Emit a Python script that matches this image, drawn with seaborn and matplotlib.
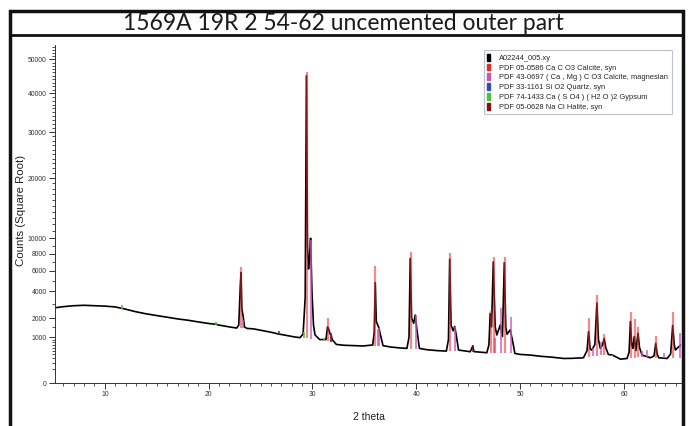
import numpy as np
import pandas as pd
import matplotlib
matplotlib.use("Agg")
import matplotlib.pyplot as plt
from matplotlib.patches import Patch, Rectangle
from matplotlib.lines import Line2D
import seaborn as sns

# measured pattern (2 theta, counts)
two_theta = [5.2, 6, 7, 8, 9, 10, 11, 11.6, 12, 13, 14, 15, 16, 17, 18, 19, 20, 20.75, 21, 22, 22.7,
             22.9, 23.05, 23.12, 23.2, 23.33, 23.45, 23.7, 24.3, 25, 26, 26.7, 27.5, 28.3, 28.8,
             29.1, 29.3, 29.42, 29.52, 29.62, 29.72, 29.82, 29.95, 30.1, 30.25, 30.7, 31.3,
             31.45, 31.55, 31.7, 31.8, 31.9, 32.3, 33, 34, 34.9, 35.8,
             35.95, 36.05, 36.15, 36.4, 36.55, 36.8, 37.5, 38.3, 39.1,
             39.3, 39.42, 39.55, 39.75, 39.9, 40.05, 40.3, 41, 42, 42.9,
             43.1, 43.22, 43.35, 43.55, 43.7, 43.85, 44.07, 45.2, 45.45, 45.55, 46.8,
             47.0, 47.12, 47.25, 47.42, 47.6, 47.76, 48.1, 48.3, 48.48, 48.62, 48.75, 49.05, 49.3, 49.5,
             50, 51, 52, 53, 54.2, 55, 56.1, 56.45, 56.6, 56.75, 56.9, 57.2, 57.4, 57.55, 57.73,
             57.95, 58.1, 58.25, 58.5, 58.9, 59.66, 60.3, 60.5, 60.63, 60.75, 60.86, 61.0, 61.15,
             61.36, 61.5, 61.75, 62.56, 62.9, 63.07, 63.2, 63.36, 64.16, 64.5, 64.7, 64.85, 64.96,
             65.2, 65.5]
counts = [2700, 2780, 2850, 2880, 2850, 2820, 2760, 2660, 2600, 2420, 2280, 2170, 2060, 1960, 1880, 1780, 1690, 1640, 1600, 1500, 1440,
          1600, 4500, 5800, 2600, 2100, 1500, 1420, 1400, 1330, 1230, 1150, 1080, 1010, 980,
          1150, 3500, 45000, 9000, 6200, 7500, 10000, 4000, 1600, 1100, 900, 900,
          1500, 1400, 1150, 1100, 900, 710, 680, 665, 654, 690,
          1200, 4800, 1800, 1450, 1100, 665, 620, 590, 571,
          1000, 7400, 2000, 1700, 2200, 1400, 571, 530, 500, 487,
          900, 7300, 1600, 1300, 1520, 1100, 518, 467, 660, 470, 437,
          700, 2300, 1500, 7000, 1500, 1100, 1617, 1030, 6900, 1500, 1130, 1350, 800, 417,
          390, 372, 340, 320, 287, 290, 303, 500, 1263, 550, 518, 700, 3050, 900, 571,
          700, 950, 600, 389, 372, 271, 287, 450, 1807, 700, 571, 1027, 500,
          1180, 600, 372, 303, 350, 750, 400, 303, 287, 400, 1578, 700, 518,
          600, 700]

# background level the reference sticks stand on
bg_theta = [5.2, 8, 10, 12, 14, 16, 18, 20, 22, 24, 26, 28, 29.5, 31, 33, 35, 37, 39, 41,
            43, 45, 47, 49.5, 52, 54, 56, 58, 60, 62, 64, 65.5]
bg_counts = [2700, 2880, 2820, 2600, 2280, 2060, 1880, 1690, 1500, 1400, 1230, 1040, 960, 880,
             680, 660, 630, 575, 530, 490, 465, 440, 417, 340, 290, 300, 380, 290, 320, 290, 300]

# reference sticks per phase
calcite_pos = [23.1, 29.45, 31.5, 36.05, 39.45, 43.25, 47.15, 47.45, 48.5, 56.6, 57.4, 58.1,
               60.65, 61.05, 61.4, 63.1, 64.7]
calcite_int = [6400, 46000, 2000, 6500, 8200, 8100, 2500, 7600, 7600, 2000, 3700, 1150,
               2400, 1950, 1500, 1070, 2400]
mgcal_pos = [23.35, 29.85, 31.8, 36.3, 36.45, 39.95, 43.75, 47.6, 48.15, 49.1, 57.0, 57.8,
             58.9, 61.75, 62.2, 63.85, 65.4]
mgcal_int = [1900, 9800, 1100, 1400, 1450, 2200, 1500, 950, 2700, 2100, 600, 800,
             370, 500, 520, 440, 1180]
quartz_pos = [26.75]
quartz_int = [1300]
gypsum_pos = [11.65, 20.75, 29.15, 31.15]
gypsum_int = [2900, 1800, 1250, 950]
halite_pos = [31.75, 45.5]
halite_int = [1200, 665]

legend_labels = ["A02244_005.xy",
                 "PDF 05-0586 Ca C O3 Calcite, syn",
                 "PDF 43-0697 ( Ca , Mg ) C O3 Calcite, magnesian",
                 "PDF 33-1161 Si O2 Quartz, syn",
                 "PDF 74-1433 Ca ( S O4 ) ( H2 O )2 Gypsum",
                 "PDF 05-0628 Na Cl Halite, syn"]
legend_colors = ["black", "#e8282c", "#cc55bb", "#3050b0", "#50c040", "#8b1010"]

sns.set_style("ticks")
plt.rcParams['font.family'] = ['Liberation Sans', 'DejaVu Sans']

fig = plt.figure(figsize=(6.89, 4.26), dpi=100)
ax = fig.add_axes([55 / 689, 43 / 426, 626 / 689, 338 / 426])

df = pd.DataFrame({"two_theta": two_theta, "counts": counts})
sns.lineplot(data=df, x="two_theta", y="counts", color="black", lw=1.2,
             estimator=None, sort=False, ax=ax, zorder=2)


def sticks(pos, inten, color, lw, alpha):
    base = np.interp(pos, bg_theta, bg_counts)
    ax.vlines(pos, base, inten, color=color, lw=lw, alpha=alpha, zorder=3)


sticks(mgcal_pos, mgcal_int, "#cc55bb", 1.3, 0.8)
sticks(calcite_pos, calcite_int, "#e8282c", 1.6, 0.55)
sticks(quartz_pos, quartz_int, "#3050b0", 1.2, 1)
sticks(gypsum_pos, gypsum_int, "#50c040", 1.2, 1)
sticks(halite_pos, halite_int, "#8b1010", 1.3, 0.8)

ax.set_yscale("function", functions=(lambda v: np.sqrt(np.clip(v, 0, None)), lambda v: v ** 2))
ax.set_xlim(5.2, 65.5)
ax.set_ylim(0, 54500)

ax.set_xticks([10, 20, 30, 40, 50, 60])
ax.set_xticks(np.arange(6, 66, 1), minor=True)
ax.set_yticks([0, 1000, 2000, 4000, 6000, 8000, 10000, 20000, 30000, 40000, 50000])
ax.set_yticks(list(range(100, 1000, 100)) + [1500, 3000, 5000, 7000, 9000] +
              [v for v in range(11000, 55000, 1000) if v % 10000], minor=True)
ax.tick_params(axis="both", which="major", labelsize=4.9, length=4, width=0.7,
               colors="#333333", pad=2)
ax.tick_params(axis="both", which="minor", length=2, width=0.6, colors="#333333")

ax.set_xlabel("2 theta", fontsize=7.5, color="#222222")
ax.set_ylabel("Counts (Square Root)", fontsize=8.2, color="#222222")
ax.xaxis.set_label_coords(0.502, -0.086)
ax.yaxis.set_label_coords(-0.047, 0.51)

sns.despine(ax=ax, top=True, right=True)
for s in ["left", "bottom"]:
    ax.spines[s].set_linewidth(0.7)
    ax.spines[s].set_color("#333333")

handles = [Patch(facecolor=c, edgecolor=c) for c in legend_colors]
leg = ax.legend(handles, legend_labels, loc="upper right", bbox_to_anchor=(0.985, 0.985),
                borderaxespad=0, fontsize=5.4, handlelength=0.35, handleheight=1.0,
                handletextpad=1.2, labelspacing=0.25, borderpad=0.5, frameon=True, fancybox=False)
leg.get_frame().set_edgecolor("#aab4c8")
leg.get_frame().set_linewidth(0.8)

# outer frame and title box
fig.add_artist(Rectangle((10 / 689, -0.02), 673 / 689, (426 - 11) / 426 + 0.02,
                         transform=fig.transFigure, fill=False, lw=2.5, edgecolor="#111111"))
fig.add_artist(Line2D([10 / 689, 683 / 689], [1 - 35 / 426, 1 - 35 / 426],
                      transform=fig.transFigure, lw=2, color="#111111"))
fig.text(343 / 689, 1 - 23.5 / 426, "1569A 19R 2 54-62 uncemented outer part",
         ha="center", va="center", fontsize=16.5, color="#1a1a1a",
         family=["Lato", "DejaVu Sans"])

fig.savefig("out.png", dpi=100)
